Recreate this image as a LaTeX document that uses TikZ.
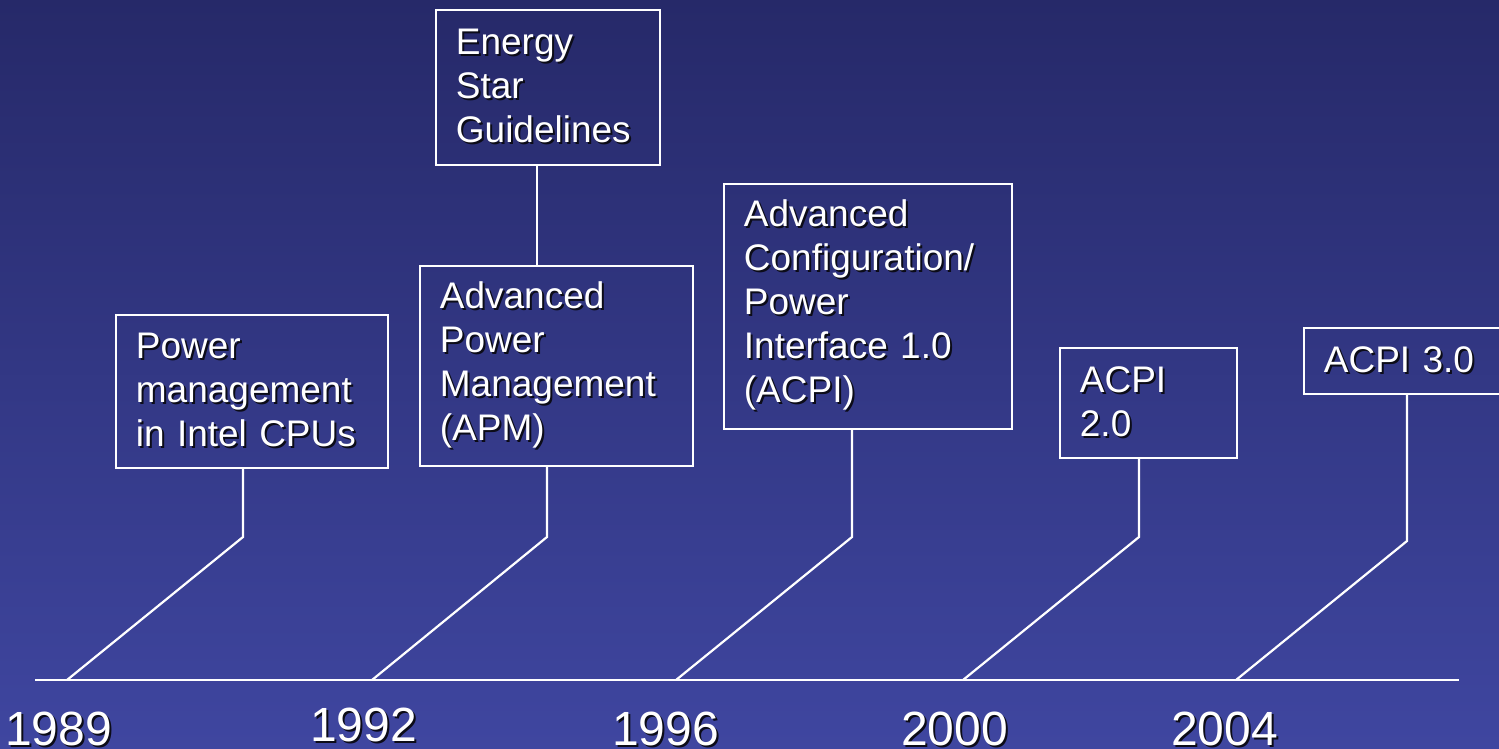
\documentclass[tikz,border=0pt]{standalone}
\usepackage{fontspec}
\setmainfont{Liberation Sans}
\definecolor{bgtop}{RGB}{38,41,105}
\definecolor{bgbot}{RGB}{63,70,160}
\definecolor{txtshadow}{RGB}{12,12,24}
\newcommand{\shtxt}[1]{\makebox[0pt][l]{\hspace{2pt}\raisebox{-2pt}{\color{txtshadow}#1}}#1}
\newcommand{\evline}[1]{\raisebox{-2.5pt}{\shtxt{#1}}}

\begin{document}
\begin{tikzpicture}[x=1pt,y=1pt]
\tikzstyle{every node}+=[inner sep=0pt, text=white]
\tikzstyle{evbox}=[draw=white, line width=1.8pt, anchor=north west, align=left, inner xsep=20pt, inner ysep=0pt, font=\fontsize{37}{44}\selectfont]
\tikzstyle{yr}=[anchor=base west, font=\fontsize{48}{48}\selectfont]
\tikzstyle{link}=[draw=white, line width=2.2pt]
\useasboundingbox (0,0) rectangle (1499,-749);
\shade [top color=bgtop, bottom color=bgbot] (0,0) rectangle (1499,-749);
% event boxes
\node [evbox, text width=232pt, minimum width=272pt, minimum height=153pt] (pm) at (115,-314) {\evline{Power}\\ \evline{management}\\ \evline{in Intel CPUs}};
\node [evbox, text width=233pt, minimum width=273pt, minimum height=200pt] (apm) at (419,-265) {\evline{Advanced}\\ \evline{Power}\\ \evline{Management}\\ \evline{(APM)}};
\node [evbox, text width=184pt, minimum width=224pt, minimum height=155pt] (es) at (435,-9) {\evline{Energy}\\ \evline{Star}\\ \evline{Guidelines}};
\node [evbox, text width=248pt, minimum width=288pt, minimum height=245pt] (acpia) at (723,-183) {\evline{Advanced}\\ \evline{Configuration/}\\ \evline{Power}\\ \evline{Interface 1.0}\\ \evline{(ACPI)}};
\node [evbox, text width=137pt, minimum width=177pt, minimum height=110pt] (acpib) at (1059,-347) {\evline{ACPI}\\ \evline{2.0}};
\node [evbox, text width=190pt, minimum width=230pt, minimum height=66pt] (acpic) at (1303,-327) {\evline{ACPI 3.0}};
% timeline
\coordinate (tl0) at (35,-680);
\coordinate (tl1) at (1459,-680);
\draw [white, line width=2.6pt] (tl0) -- (tl1);
\coordinate (f1) at (67,-680);
\coordinate (f2) at (372,-680);
\coordinate (f3) at (676,-680);
\coordinate (f4) at (963,-680);
\coordinate (f5) at (1236,-680);
\coordinate (k1) at (243,-537);
\coordinate (k2) at (547,-537);
\coordinate (k3) at (852,-537);
\coordinate (k4) at (1139,-537);
\coordinate (k5) at (1407,-541);
\coordinate (esx) at (537,0);
\draw [link] (pm.south -| k1) -- (k1) -- (f1);
\draw [link] (apm.south -| k2) -- (k2) -- (f2);
\draw [link] (acpia.south -| k3) -- (k3) -- (f3);
\draw [link] (acpib.south -| k4) -- (k4) -- (f4);
\draw [link] (acpic.south -| k5) -- (k5) -- (f5);
\draw [link] (es.south -| esx) -- (apm.north -| esx);
% years
\node [yr] (y1989) at (5,-745) {\shtxt{1989}};
\node [yr] (y1992) at (310,-741) {\shtxt{1992}};
\node [yr] (y1996) at (612,-745) {\shtxt{1996}};
\node [yr] (y2000) at (901,-745) {\shtxt{2000}};
\node [yr] (y2004) at (1171,-745) {\shtxt{2004}};
\end{tikzpicture}
\end{document}
